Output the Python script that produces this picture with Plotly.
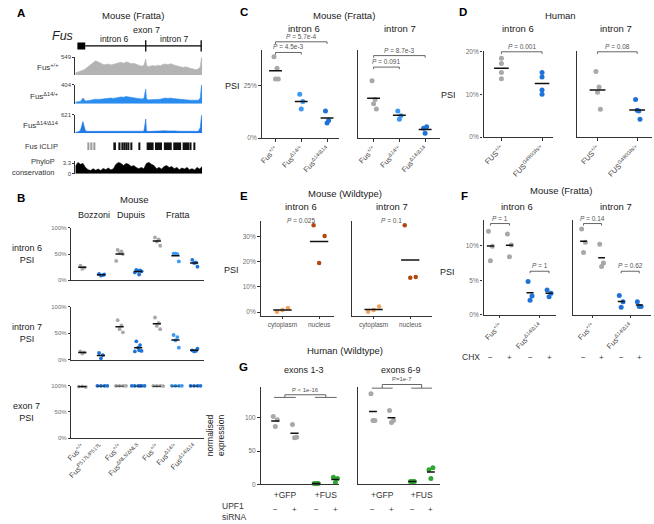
import numpy as np
import plotly.graph_objects as go

W, H = 654, 524
FONT = "Liberation Sans, Arial, Helvetica, sans-serif"
GREY = "#a8a8a8"
BLUE = "#1f72d6"
BLUE_L = "#3c98f2"
ORANGE_L = "#f7a25a"
ORANGE_D = "#b4470c"
GREEN = "#31a532"
TXT = "#222222"
TICK = "#6e6e6e"

# ---------------- Panel A: Fus exon 6 -> exon 8 region (position in % of region)
cov_pos = [0, 2, 4, 5, 6, 7, 8,
           10, 12, 14, 16, 18, 20, 22, 24, 26, 28, 30, 32, 34, 36, 38, 40,
           42, 44, 46, 48, 50, 52, 54, 55, 55.5, 56,
           57, 59, 61, 63, 65, 67, 69, 71, 73, 75, 77, 79, 81, 83, 85, 87,
           89, 91, 93, 95, 97, 98.5, 99.5, 100]
cov_wt = [66, 88, 110, 132, 154, 165, 198,
          264, 329, 395, 439, 406, 362, 329, 318, 340, 313, 329, 346, 373, 395, 362, 406,
          384, 351, 362, 329, 307, 275, 296, 439, 494, 329,
          258, 275, 296, 275, 302, 285, 329, 340, 318, 351, 313, 296, 275, 253, 236, 253,
          220, 203, 187, 165, 192, 247, 549, 494]
cov_het = [32, 40, 48, 81, 121, 89, 57,
           65, 81, 89, 97, 89, 97, 105, 101, 113, 121, 113, 129, 137, 145, 137, 154,
           145, 133, 137, 121, 113, 101, 109, 242, 315, 121,
           81, 85, 89, 81, 89, 97, 109, 121, 113, 121, 109, 101, 97, 89, 81, 85,
           77, 73, 69, 65, 73, 121, 404, 364]
cov_hom = [37, 43, 93, 217, 385, 217, 75,
           62, 62, 68, 68, 75, 68, 75, 75, 81, 75, 75, 81, 81, 87, 81, 87,
           81, 75, 81, 75, 68, 62, 68, 311, 472, 93,
           62, 62, 68, 62, 68, 75, 75, 81, 75, 81, 75, 75, 68, 68, 62, 68,
           62, 62, 56, 56, 62, 186, 590, 528]
cov_scale = [549, 404, 621]
cov_names = ["Fus<sup>+/+</sup>", "Fus<sup>Δ14/+</sup>", "Fus<sup>Δ14/Δ14</sup>"]

phylop_pos = list(range(0, 101, 2))
phylop = [2.3, 3.6, 3.0, 3.3, 2.0, 1.3, 1.0, 1.6, 1.1, 1.5,
          1.0, 1.7, 1.3, 1.8, 1.2, 1.6, 3.0, 3.6, 3.3, 2.6,
          3.3, 3.0, 2.3, 2.6, 2.0, 1.6, 2.0, 1.6, 3.3, 3.6,
          3.0, 2.6, 1.6, 2.0, 1.5, 2.3, 2.6, 2.0, 2.3, 1.6,
          2.0, 1.3, 1.8, 1.5, 2.0, 1.3, 1.6, 1.2, 2.0, 1.5, 2.3]

iclip_start = [9.5, 12.2, 14.8, 30.6, 34.6, 36.5, 38.0, 39.6, 41.2, 43.8, 50.3,
               56.2, 62.8, 69.8, 77.2, 84.6, 90.6, 93.2]
iclip_end = [10.3, 13.0, 15.6, 32.0, 35.6, 37.4, 39.0, 40.5, 42.6, 44.8, 51.2,
             61.7, 68.3, 76.0, 83.4, 89.6, 91.6, 94.2]
iclip_strong = [0, 0, 0, 1, 1, 1, 1, 1, 1, 1, 1, 1, 1, 1, 1, 1, 1, 1]

exon6_span = [1.6, 7.8]
exon7_pos = 55.5
exon8_pos = 99.2

# ---------------- Panel B
b_labels = ["Fus<sup>+/+</sup>", "Fus<sup>P517L/P517L</sup>", "Fus<sup>+/+</sup>",
            "Fus<sup>ΔNLS/ΔNLS</sup>", "Fus<sup>+/+</sup>", "Fus<sup>Δ14/+</sup>",
            "Fus<sup>Δ14/Δ14</sup>"]
b_intron6 = [[28, 24, 22], [12, 10, 9, 11], [58, 55, 52, 50, 37],
             [20, 19, 18, 17, 15, 11], [82, 78, 74, 66], [51, 50, 51, 36], [39, 34, 33, 26]]
b_intron7 = [[16, 14, 12], [13, 9, 3], [75, 65, 58, 52],
             [35, 28, 23, 17, 16, 18], [80, 70, 64, 58], [47, 43, 37, 23], [18, 17, 16, 21]]
b_exon7 = [[98.5, 98, 99], [100, 100, 100, 100], [100, 100, 100, 100],
           [100, 100, 100, 100, 100, 100], [100, 100, 100, 99.5], [100, 100, 100, 100],
           [100, 100, 100, 100]]
b_colors = [GREY, BLUE, GREY, BLUE, GREY, BLUE_L, BLUE]

# ---------------- Panel C
c_labels = ["Fus<sup>+/+</sup>", "Fus<sup>Δ14/+</sup>", "Fus<sup>Δ14/Δ14</sup>"]
c_intron6 = [[39, 33.5, 28.3, 28.3], [21, 17.5, 14], [13, 8.5, 7.3]]
c_intron7 = [[27.5, 18.5, 16.5, 14], [13, 10.7, 9.1], [4.7, 5.5, 2.4]]
c_colors = [GREY, BLUE_L, BLUE]
c_p6 = ["5.7e-4", "4.5e-3"]
c_p7 = ["8.7e-3", "0.091"]

# ---------------- Panel D
d_labels = ["FUS<sup>+/+</sup>", "FUS<sup>G496Gfs/+</sup>"]
d_intron6 = [[18.4, 17.2, 15.1, 13.6], [15.1, 14.0, 11.0, 10.0]]
d_intron7 = [[15.3, 11.7, 10.5, 6.5], [8.8, 6.1, 6.3, 4.2]]
d_colors = [GREY, BLUE]
d_p = ["0.001", "0.08"]

# ---------------- Panel E
e_labels = ["cytoplasm", "nucleus"]
e_intron6 = [[0.2, 1.6, 0.8], [34.5, 30.3, 19.5]]
e_intron7 = [[0.2, 2.2, 0.8], [34.5, 14.0, 13.7]]
e_colors = [ORANGE_L, ORANGE_D]
e_p = ["0.025", "0.1"]

# ---------------- Panel F (groups x CHX -/+)
f_labels = ["Fus<sup>+/+</sup>", "Fus<sup>Δ14/Δ14</sup>"]
f_chx = ["−", "+"]
f_intron6 = [[[12.1, 9.9, 7.8], [11.7, 10.1, 8.4]], [[4.8, 2.7, 2.1], [3.6, 3.1, 2.6]]]
f_intron7 = [[[12.4, 10.5, 9.0], [10.2, 7.5, 7.0]], [[2.8, 1.9, 1.1], [1.9, 1.2, 1.2]]]
f_colors = [GREY, BLUE]
f_p6 = ["1", "1"]
f_p7 = ["0.14", "0.62"]

# ---------------- Panel G (groups x UPF1 siRNA -/+)
g_labels = ["+GFP", "+FUS"]
g_upf1 = ["−", "+"]
g_exons13 = [[[102, 97, 87], [90, 71, 70]], [[1.5, 1.5, 1.5], [11, 9, 3]]]
g_exons69 = [[[136, 96, 96], [111, 96, 93]], [[4.5, 4.5, 4.5], [22, 25, 9]]]
g_colors = [GREY, GREEN]
g_p = ["P < 1e-16", "P=1e-7"]

# ---------------------------------------------------------------------------
fig = go.Figure()
layout = dict(width=W, height=H, margin=dict(l=0, r=0, t=0, b=0),
              paper_bgcolor="white", plot_bgcolor="rgba(0,0,0,0)", showlegend=False,
              font=dict(family=FONT, color=TXT))
ann = []
n_ax = [0]

AX = dict(showgrid=False, zeroline=False, showline=True, linecolor="#333333", linewidth=1.2,
          ticks="outside", ticklen=2.5, tickwidth=0.8, tickcolor="#333333",
          tickfont=dict(size=6.5, color=TICK, family=FONT), fixedrange=True)
HIDE = dict(showline=False, ticks="", showticklabels=False)
JIT = [-0.5, 0.5, 0.0, 0.9, -0.9, 0.25, -0.25]


def axes(x0, x1, y0, y1, xr, yr, xkw=None, ykw=None):
    n_ax[0] += 1
    s = "" if n_ax[0] == 1 else str(n_ax[0])
    xa = dict(AX, domain=[x0 / W, x1 / W], range=xr, anchor="y" + s)
    ya = dict(AX, domain=[1 - y1 / H, 1 - y0 / H], range=yr, anchor="x" + s)
    xa.update(xkw or {})
    ya.update(ykw or {})
    layout["xaxis" + s] = xa
    layout["yaxis" + s] = ya
    return "x" + s, "y" + s


def overlay(x0, x1, y0, y1, xr, yr, extra=45):
    # invisible twin of a subplot, taller on top, same data scale (for brackets / P labels)
    top = yr[0] + (yr[1] - yr[0]) * (y1 - y0 + extra) / (y1 - y0)
    return axes(x0, x1, y0 - extra, y1, xr, [yr[0], top], HIDE, HIDE)


def txt(x, y, s, size=9.5, color=TXT, xanchor="center", **kw):
    ann.append(dict(x=x / W, y=1 - y / H, xref="paper", yref="paper", text=s,
                    showarrow=False, xanchor=xanchor, yanchor="middle",
                    font=dict(size=size, color=color, family=FONT), **kw))


def dots(xa, ya, x, vals, color, spread, size, half):
    xs = [x + JIT[i % len(JIT)] * spread for i in range(len(vals))]
    fig.add_trace(go.Scatter(x=xs, y=vals, mode="markers",
                             marker=dict(color=color, size=size, line=dict(width=0)),
                             xaxis=xa, yaxis=ya, cliponaxis=False, hoverinfo="skip"))
    m = float(np.mean(vals))
    fig.add_trace(go.Scatter(x=[x - half, x + half], y=[m, m], mode="lines",
                             line=dict(color="#111111", width=1.5),
                             xaxis=xa, yaxis=ya, cliponaxis=False, hoverinfo="skip"))


def seg(xa, ya, xs, ys):
    fig.add_trace(go.Scatter(x=xs, y=ys, mode="lines", line=dict(color="#555555", width=0.9),
                             xaxis=xa, yaxis=ya, hoverinfo="skip"))


def label(xa, ya, x, y, s, anchor="bottom", size=6.5):
    ann.append(dict(x=x, y=y, xref=xa, yref=ya, text=s, showarrow=False, yanchor=anchor,
                    font=dict(size=size, color="#555555", family=FONT)))


def bracket(xa, ya, xl, xr, y, drop, s):
    seg(xa, ya, [xl, xl, xr, xr], [y - drop, y, y, y - drop])
    label(xa, ya, (xl + xr) / 2, y, s)


def sign(xa, x, y, s):
    ann.append(dict(x=x, y=1 - y / H, xref=xa, yref="paper", text=s, showarrow=False,
                    xanchor="center", yanchor="middle",
                    font=dict(size=8, color="#333333", family=FONT)))


def ptxt(p):
    return "<i>P</i> = " + p


# ---------------- Panel A
xa, ya = axes(70, 198, 35, 50, [0, 100], [-1, 1], HIDE, HIDE)
fig.add_trace(go.Scatter(x=[exon6_span[1], exon8_pos], y=[0, 0], mode="lines",
                         line=dict(color="black", width=1.3), xaxis=xa, yaxis=ya))
fig.add_trace(go.Scatter(x=exon6_span, y=[0, 0], mode="lines",
                         line=dict(color="black", width=7), xaxis=xa, yaxis=ya))
fig.add_trace(go.Scatter(x=[exon7_pos, exon8_pos], y=[0, 0], mode="markers",
                         marker=dict(symbol="line-ns-open", size=8, color="black",
                                     line=dict(color="black", width=1.3)),
                         xaxis=xa, yaxis=ya))

track_rows = [(54, 72), (82, 101), (112, 131)]
track_cols = ["#b3b3b3", "#2b8cf0", "#1f7ae8"]
for vals, top, col, (y0, y1), name in zip([cov_wt, cov_het, cov_hom], cov_scale,
                                          track_cols, track_rows, cov_names):
    xa, ya = axes(70, 198, y0, y1, [0, 100], [0, top], HIDE,
                  dict(tickvals=[top], ticktext=[str(top)], ticklen=2,
                       tickfont=dict(size=6, color="#444444", family=FONT)))
    fig.add_trace(go.Scatter(x=cov_pos, y=vals, mode="lines", fill="tozeroy",
                             line=dict(color=col, width=0.6), fillcolor=col,
                             xaxis=xa, yaxis=ya, hoverinfo="skip"))
    txt(55, y1 - 8, name, size=8, color="#333333", xanchor="right")

xa, ya = axes(70, 198, 140, 148, [0, 100], [0, 1], HIDE, HIDE)
fig.add_trace(go.Bar(x=[(s + e) / 2 for s, e in zip(iclip_start, iclip_end)],
                     y=[1] * len(iclip_start),
                     width=[e - s for s, e in zip(iclip_start, iclip_end)],
                     marker=dict(color=["#111111" if k else "#9a9a9a" for k in iclip_strong],
                                 line=dict(width=0)),
                     xaxis=xa, yaxis=ya, hoverinfo="skip"))

xa, ya = axes(70, 198, 159, 172, [0, 100], [0, 4.1], HIDE,
              dict(tickvals=[0, 3.3], ticktext=["0", "3.3"], ticklen=2,
                   tickfont=dict(size=6, color="#444444", family=FONT)))
fig.add_trace(go.Scatter(x=phylop_pos, y=phylop, mode="lines", fill="tozeroy",
                         line=dict(color="black", width=0.6), fillcolor="black",
                         xaxis=xa, yaxis=ya, hoverinfo="skip"))

txt(15, 9, "<b>A</b>", size=11.5, color="black")
txt(128, 12, "Mouse (Fratta)", size=9.5)
txt(57, 32, "<i>Fus</i>", size=12.5)
txt(142, 26, "exon 7", size=9)
txt(110, 35.5, "intron 6", size=8.5)
txt(170, 35.5, "intron 7", size=8.5)
txt(54, 144, "Fus iCLIP", size=7.5, color="#333333", xanchor="right")
txt(51, 160, "PhyloP", size=7.5, color="#333333", xanchor="right")
txt(51, 171, "conservation", size=7.5, color="#333333", xanchor="right")

# ---------------- Panel B
b_rows = [(227, 280, b_intron6, "intron 6<br>PSI", 0.2),
          (307, 360.7, b_intron7, "intron 7<br>PSI", 0.2),
          (387, 440, b_exon7, "exon 7<br>PSI", 0.38)]
for k, (y0, y1, data, lab, spread) in enumerate(b_rows):
    last = k == len(b_rows) - 1
    xa, ya = axes(66, 200, y0, y1, [0.415, 7.54], [0, 100],
                  dict(ticks="", tickvals=list(range(1, 8)), ticktext=b_labels,
                       showticklabels=last, tickangle=-45,
                       tickfont=dict(size=7.5, color="#444444", family=FONT)),
                  dict(tickvals=[0, 50, 100], ticktext=["0%", "50%", "100%"],
                       tickfont=dict(size=6, color=TICK, family=FONT)))
    for i, (vals, col) in enumerate(zip(data, b_colors)):
        dots(xa, ya, i + 1, vals, col, spread, 3.8, 0.22)
    txt(21, (y0 + y1) / 2, lab, size=9)

txt(15, 197, "<b>B</b>", size=11.5, color="black")
txt(130, 198, "Mouse", size=9.5)
txt(89, 214, "Bozzoni", size=9)
txt(127, 214, "Dupuis", size=9)
txt(174, 214, "Fratta", size=9)

# ---------------- Panel C
xkw_c = dict(tickvals=[1, 2, 3], ticktext=c_labels, tickangle=-45,
             tickfont=dict(size=7.5, color="#444444", family=FONT))
xa, ya = axes(258, 336, 47, 136, [0.4615, 3.4615], [0, 42], xkw_c,
              dict(tickvals=[0, 25], ticktext=["0%", "25%"]))
for i, (vals, col) in enumerate(zip(c_intron6, c_colors)):
    dots(xa, ya, i + 1, vals, col, 0.12, 5, 0.25)
oa, ob = overlay(258, 336, 47, 136, [0.4615, 3.4615], [0, 42])
bracket(oa, ob, 1, 3, 46.1, 1.0, ptxt(c_p6[0]))
bracket(oa, ob, 1, 2, 41.0, 1.0, ptxt(c_p6[1]))

xa, ya = axes(355, 438, 47, 136, [0.385, 3.577], [0, 42], xkw_c,
              dict(ticks="", showticklabels=False))
for i, (vals, col) in enumerate(zip(c_intron7, c_colors)):
    dots(xa, ya, i + 1, vals, col, 0.12, 5, 0.25)
oa, ob = overlay(355, 438, 47, 136, [0.385, 3.577], [0, 42])
bracket(oa, ob, 1, 3, 39.5, 1.0, ptxt(c_p7[0]))
bracket(oa, ob, 1, 2, 34.0, 1.0, ptxt(c_p7[1]))

txt(240, 8, "<b>C</b>", size=11.5, color="black")
txt(341, 12, "Mouse (Fratta)", size=9.5)
txt(301, 25, "intron 6", size=9.5)
txt(398, 25, "intron 7", size=9.5)
txt(229, 83, "PSI", size=9)

# ---------------- Panel D
xkw_d = dict(tickvals=[1, 2], ticktext=d_labels, tickangle=-45,
             tickfont=dict(size=7.5, color="#444444", family=FONT))
xa, ya = axes(482, 552, 48, 135, [0.561, 2.268], [0, 20], xkw_d,
              dict(tickvals=[0, 10, 20], ticktext=["0%", "10%", "20%"]))
for i, (vals, col) in enumerate(zip(d_intron6, d_colors)):
    dots(xa, ya, i + 1, vals, col, 0.0, 5, 0.18)
oa, ob = overlay(482, 552, 48, 135, [0.561, 2.268], [0, 20])
bracket(oa, ob, 1, 2, 19.9, 0.5, ptxt(d_p[0]))

xa, ya = axes(576, 652, 48, 135, [0.475, 2.375], [0, 20], xkw_d,
              dict(ticks="", showticklabels=False))
for i, (vals, col) in enumerate(zip(d_intron7, d_colors)):
    dots(xa, ya, i + 1, vals, col, 0.08, 5, 0.2)
oa, ob = overlay(576, 652, 48, 135, [0.475, 2.375], [0, 20])
bracket(oa, ob, 1, 2, 19.9, 0.5, ptxt(d_p[1]))

txt(461, 8, "<b>D</b>", size=11.5, color="black")
txt(560, 12, "Human", size=9.5)
txt(517, 25, "intron 6", size=9.5)
txt(616, 25, "intron 7", size=9.5)
txt(447, 92, "PSI", size=9)

# ---------------- Panel E
xkw_e = dict(tickvals=[1, 2], ticktext=e_labels,
             tickfont=dict(size=6.5, color="#555555", family=FONT))
for (x0, x1, xr, data, pv, ykw) in [
        (257, 331, [0.405, 2.405], e_intron6, e_p[0],
         dict(tickvals=[0, 10, 20, 30], ticktext=["0%", "10%", "20%", "30%"])),
        (349, 430, [0.405, 2.595], e_intron7, e_p[1],
         dict(ticks="", showticklabels=False))]:
    xa, ya = axes(x0, x1, 220, 316, xr, [-1.45, 36.2], xkw_e, ykw)
    for i, (vals, col) in enumerate(zip(data, e_colors)):
        dots(xa, ya, i + 1, vals, col, 0.3, 4.5, 0.25)
    oa, ob = overlay(x0, x1, 220, 316, xr, [-1.45, 36.2])
    label(oa, ob, 1.5, 36.5, ptxt(pv), anchor="middle")

txt(240, 195, "<b>E</b>", size=11.5, color="black")
txt(342, 192, "Mouse (Wildtype)", size=9.5)
txt(298, 205, "intron 6", size=9.5)
txt(390, 205, "intron 7", size=9.5)
txt(228, 270, "PSI", size=9)

# ---------------- Panel F
DODGE = 0.24
xkw_f = dict(tickvals=[1, 2], ticktext=f_labels, tickangle=-45,
             tickfont=dict(size=7.5, color="#444444", family=FONT))
for (x0, x1, xr, data, pv, ykw) in [
        (482, 555, [0.5875, 2.4125], f_intron6, f_p6,
         dict(tickvals=[0, 5, 10], ticktext=["0%", "5%", "10%"])),
        (572, 651, [0.474, 2.553], f_intron7, f_p7,
         dict(ticks="", showticklabels=False))]:
    xa, ya = axes(x0, x1, 219, 315, xr, [0, 13.7], xkw_f, ykw)
    for g, (grp, col) in enumerate(zip(data, f_colors)):
        for j, vals in enumerate(grp):
            xc = g + 1 + (j - 0.5) * 2 * DODGE
            dots(xa, ya, xc, vals, col, 0.1, 5, 0.09)
            sign(xa, xc, 358, f_chx[j])
    oa, ob = overlay(x0, x1, 219, 315, xr, [0, 13.7])
    bracket(oa, ob, 1 - DODGE, 1 + DODGE, 13.2, 0.3, ptxt(pv[0]))
    bracket(oa, ob, 2 - DODGE, 2 + DODGE, 6.3, 0.3, ptxt(pv[1]))

txt(463, 195, "<b>F</b>", size=11.5, color="black")
txt(560, 189, "Mouse (Fratta)", size=9.5)
txt(516, 205, "intron 6", size=9.5)
txt(616, 205, "intron 7", size=9.5)
txt(446, 272, "PSI", size=9)
txt(469, 358, "CHX", size=8.5, color="#333333")

# ---------------- Panel G
DG = 0.235
xkw_g = dict(ticks="", tickvals=[1, 2], ticktext=g_labels, ticklabelstandoff=2,
             tickfont=dict(size=8.5, color="#333333", family=FONT))
for (x0, x1, xr, data, pv, lv, ykw) in [
        (257, 336, [0.407, 2.32], g_exons13, g_p[0], (130.6, 134.6),
         dict(tickvals=[0, 50, 100], ticktext=["0", "50", "100"])),
        (355, 438, [0.379, 2.465], g_exons69, g_p[1], (144.5, 150.0),
         dict(ticks="", showticklabels=False))]:
    xa, ya = axes(x0, x1, 388, 487, xr, [0, 146.5], xkw_g, ykw)
    for g, (grp, col) in enumerate(zip(data, g_colors)):
        for j, vals in enumerate(grp):
            xc = g + 1 + (j - 0.5) * 2 * DG
            dots(xa, ya, xc, vals, col, 0.1, 5, 0.1)
            sign(xa, xc, 512, g_upf1[j])
    oa, ob = overlay(x0, x1, 388, 487, xr, [0, 146.5])
    low, high = lv
    for g in (1, 2):
        seg(oa, ob, [g - DG - 0.03, g + DG + 0.03], [low, low])
    seg(oa, ob, [1, 1, 2, 2], [low, high, high, low])
    label(oa, ob, 1.5, high, pv, size=6)

txt(240, 368, "<b>G</b>", size=11.5, color="black")
txt(342, 351, "Human (Wildtype)", size=9.5)
txt(301, 371, "exons 1-3", size=9)
txt(399, 371, "exons 6-9", size=9)
txt(211, 437, "normalised<br>expression", size=8.5, textangle=-90)
txt(229, 509, "UPF1", size=8.5, color="#333333")
txt(230, 520, "siRNA", size=8.5, color="#333333")

layout["annotations"] = ann
fig.update_layout(**layout)
fig.write_html("out.html", config={"displayModeBar": False},
               post_script="document.body.style.margin='0px';")
